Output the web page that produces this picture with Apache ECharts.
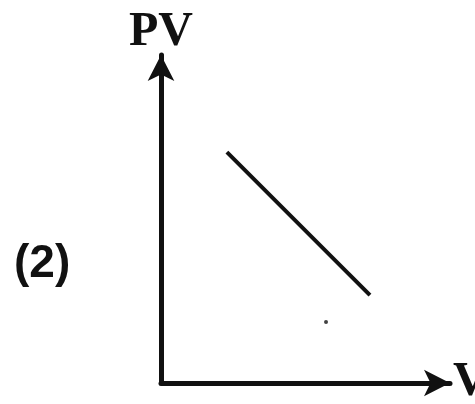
<!DOCTYPE html>
<html>
<head>
<meta charset="utf-8">
<title>PV - V</title>
<script src="https://cdn.jsdelivr.net/npm/echarts@6/dist/echarts.min.js"></script>
<style>
  html, body { margin: 0; padding: 0; background: #fff; }
  #chart { width: 475px; height: 404px; }
</style>
</head>
<body>
<div id="chart"></div>
<script>
// 数据
var xName = "V";
var yName = "PV";
var panelLabel = "(2)";
var lineV = [2.28, 7.23];   // V
var linePV = [7.04, 2.68];  // PV
var dotV = [5.71];
var dotPV = [1.86];

var ink = "#111";

var myChart = echarts.init(document.getElementById("chart"));

var option = {
  backgroundColor: "#fff",
  animation: false,
  title: {
    text: panelLabel,
    left: 14,
    top: 241,
    padding: 0,
    textStyle: {
      fontFamily: "Liberation Sans",
      fontSize: 46,
      fontWeight: "bold",
      color: ink
    }
  },
  grid: { left: 161, right: 25, top: 55, bottom: 21, outerBoundsMode: "none" },
  xAxis: {
    type: "value",
    min: 0,
    max: 10,
    name: xName,
    nameLocation: "end",
    nameGap: 3,
    nameTextStyle: {
      fontFamily: "Liberation Serif",
      fontWeight: "bold",
      fontSize: 48,
      color: ink,
      verticalAlign: "middle",
      padding: [0, 0, 8, 0]
    },
    axisLine: {
      show: true,
      symbol: ["none", "arrow"],
      symbolSize: [20, 26],
      lineStyle: { color: ink, width: 5 }
    },
    axisTick: { show: false },
    axisLabel: { show: false },
    splitLine: { show: false }
  },
  yAxis: {
    type: "value",
    min: 0,
    max: 10,
    name: yName,
    nameLocation: "end",
    nameGap: 0,
    nameTextStyle: {
      fontFamily: "Liberation Serif",
      fontWeight: "bold",
      fontSize: 48,
      color: ink,
      align: "center",
      lineHeight: 44
    },
    axisLine: {
      show: true,
      symbol: ["none", "arrow"],
      symbolSize: [20, 26],
      lineStyle: { color: ink, width: 5 }
    },
    axisTick: { show: false },
    axisLabel: { show: false },
    splitLine: { show: false }
  },
  series: [
    {
      type: "line",
      data: lineV.map(function (v, i) { return [v, linePV[i]]; }),
      showSymbol: false,
      lineStyle: { color: ink, width: 4 }
    },
    {
      type: "scatter",
      data: dotV.map(function (v, i) { return [v, dotPV[i]]; }),
      symbolSize: 4,
      itemStyle: { color: ink }
    }
  ]
};

myChart.setOption(option);
</script>
</body>
</html>
